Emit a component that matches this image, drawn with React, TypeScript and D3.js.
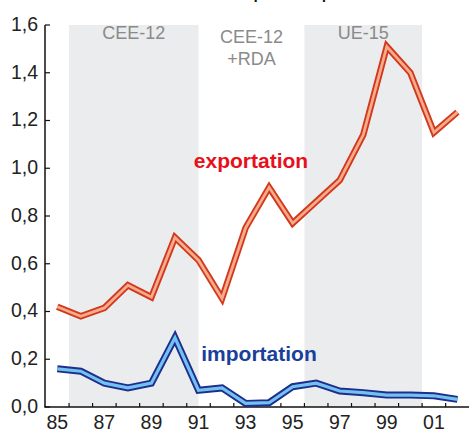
import React from "react";
import * as d3 from "d3";

const years = [1985, 1986, 1987, 1988, 1989, 1990, 1991, 1992, 1993, 1994, 1995, 1996, 1997, 1998, 1999, 2000, 2001, 2002];
const exportation = [0.42, 0.38, 0.415, 0.51, 0.46, 0.71, 0.615, 0.455, 0.75, 0.92, 0.77, 0.86, 0.95, 1.14, 1.51, 1.40, 1.15, 1.235];
const importation = [0.16, 0.15, 0.1, 0.08, 0.1, 0.29, 0.07, 0.08, 0.015, 0.018, 0.085, 0.1, 0.067, 0.06, 0.05, 0.05, 0.047, 0.032];
const yTicks = [0, 0.2, 0.4, 0.6, 0.8, 1.0, 1.2, 1.4, 1.6];
const xLabelYears = [1985, 1987, 1989, 1991, 1993, 1995, 1997, 1999, 2001];
const periods = [
  { from: 1985.5, to: 1991, lines: ["CEE-12"], shaded: true },
  { from: 1991, to: 1995.5, lines: ["CEE-12", "+RDA"], shaded: false },
  { from: 1995.5, to: 2000.5, lines: ["UE-15"], shaded: true },
];
const title = "Solde commercial en équivalent quantités de 1985";

const W = 469;
const H = 432;
const font = "'Liberation Sans', Arial, sans-serif";

export default function App() {
  const x = d3.scaleLinear().domain([1984.5, 2002.5]).range([45.5, 469.2]);
  const y = d3.scaleLinear().domain([0, 1.6]).range([407, 25]);
  const line = d3
    .line<number>()
    .x((_, i) => x(years[i]))
    .y((d) => y(d));
  const tickYears = d3.range(1985.5, 2002, 1);
  const fmt = (v: number) => v.toFixed(1).replace(".", ",");

  return (
    <svg
      width={W}
      height={H}
      style={{ position: "absolute", left: 0, top: 0, background: "#fff" }}
      fontFamily={font}
    >
      <text x={265} y={-1} textAnchor="middle" fontSize={17} fontWeight="bold" fill="#111" textLength={350} lengthAdjust="spacingAndGlyphs">
        {title}
      </text>
      {periods.map((p, i) =>
        p.shaded ? (
          <rect key={"s" + i} x={x(p.from)} y={y(1.6)} width={x(p.to) - x(p.from)} height={y(0) - y(1.6)} fill="#ebecee" />
        ) : null
      )}
      {periods.map((p, i) =>
        p.lines.map((t, j) => (
          <text
            key={"p" + i + j}
            x={(x(p.from) + x(p.to)) / 2}
            y={p.shaded ? 39 : 43 + j * 22}
            textAnchor="middle"
            fontSize={18}
            fill="#8a8a8a"
          >
            {t}
          </text>
        ))
      )}
      {/* axes */}
      <line x1={45} x2={45} y1={y(1.6)} y2={y(0)} stroke="#111" strokeWidth={1.5} />
      <line x1={44.25} x2={469} y1={y(0)} y2={y(0)} stroke="#111" strokeWidth={1.5} />
      {yTicks.map((v) => (
        <g key={"y" + v}>
          <line x1={45} x2={50} y1={y(v)} y2={y(v)} stroke="#111" strokeWidth={1.2} />
          <text x={38} y={y(v)} dy="0.3em" textAnchor="end" fontSize={19.5} fill="#222">
            {fmt(v)}
          </text>
        </g>
      ))}
      {tickYears.map((t) => (
        <line key={"xt" + t} x1={x(t)} x2={x(t)} y1={y(0)} y2={y(0) - 4} stroke="#111" strokeWidth={1.2} />
      ))}
      {xLabelYears.map((yr) => (
        <text key={"xl" + yr} x={x(yr)} y={428.5} textAnchor="middle" fontSize={19.5} fill="#222">
          {String(yr).slice(2)}
        </text>
      ))}
      {/* series */}
      <path d={line(exportation) || ""} fill="none" stroke="#d2381c" strokeWidth={6.5} strokeLinejoin="miter" />
      <path d={line(exportation) || ""} fill="none" stroke="#f6ab8a" strokeWidth={2.8} strokeLinejoin="miter" />
      <path d={line(importation) || ""} fill="none" stroke="#1e2d8e" strokeWidth={7} strokeLinejoin="miter" />
      <path d={line(importation) || ""} fill="none" stroke="#72c2ef" strokeWidth={3.2} strokeLinejoin="miter" />
      <text x={251} y={168} textAnchor="middle" fontSize={21} fontWeight="bold" fill="#e8101a">
        exportation
      </text>
      <text x={259} y={361} textAnchor="middle" fontSize={21} fontWeight="bold" fill="#1a3f9a">
        importation
      </text>
    </svg>
  );
}
